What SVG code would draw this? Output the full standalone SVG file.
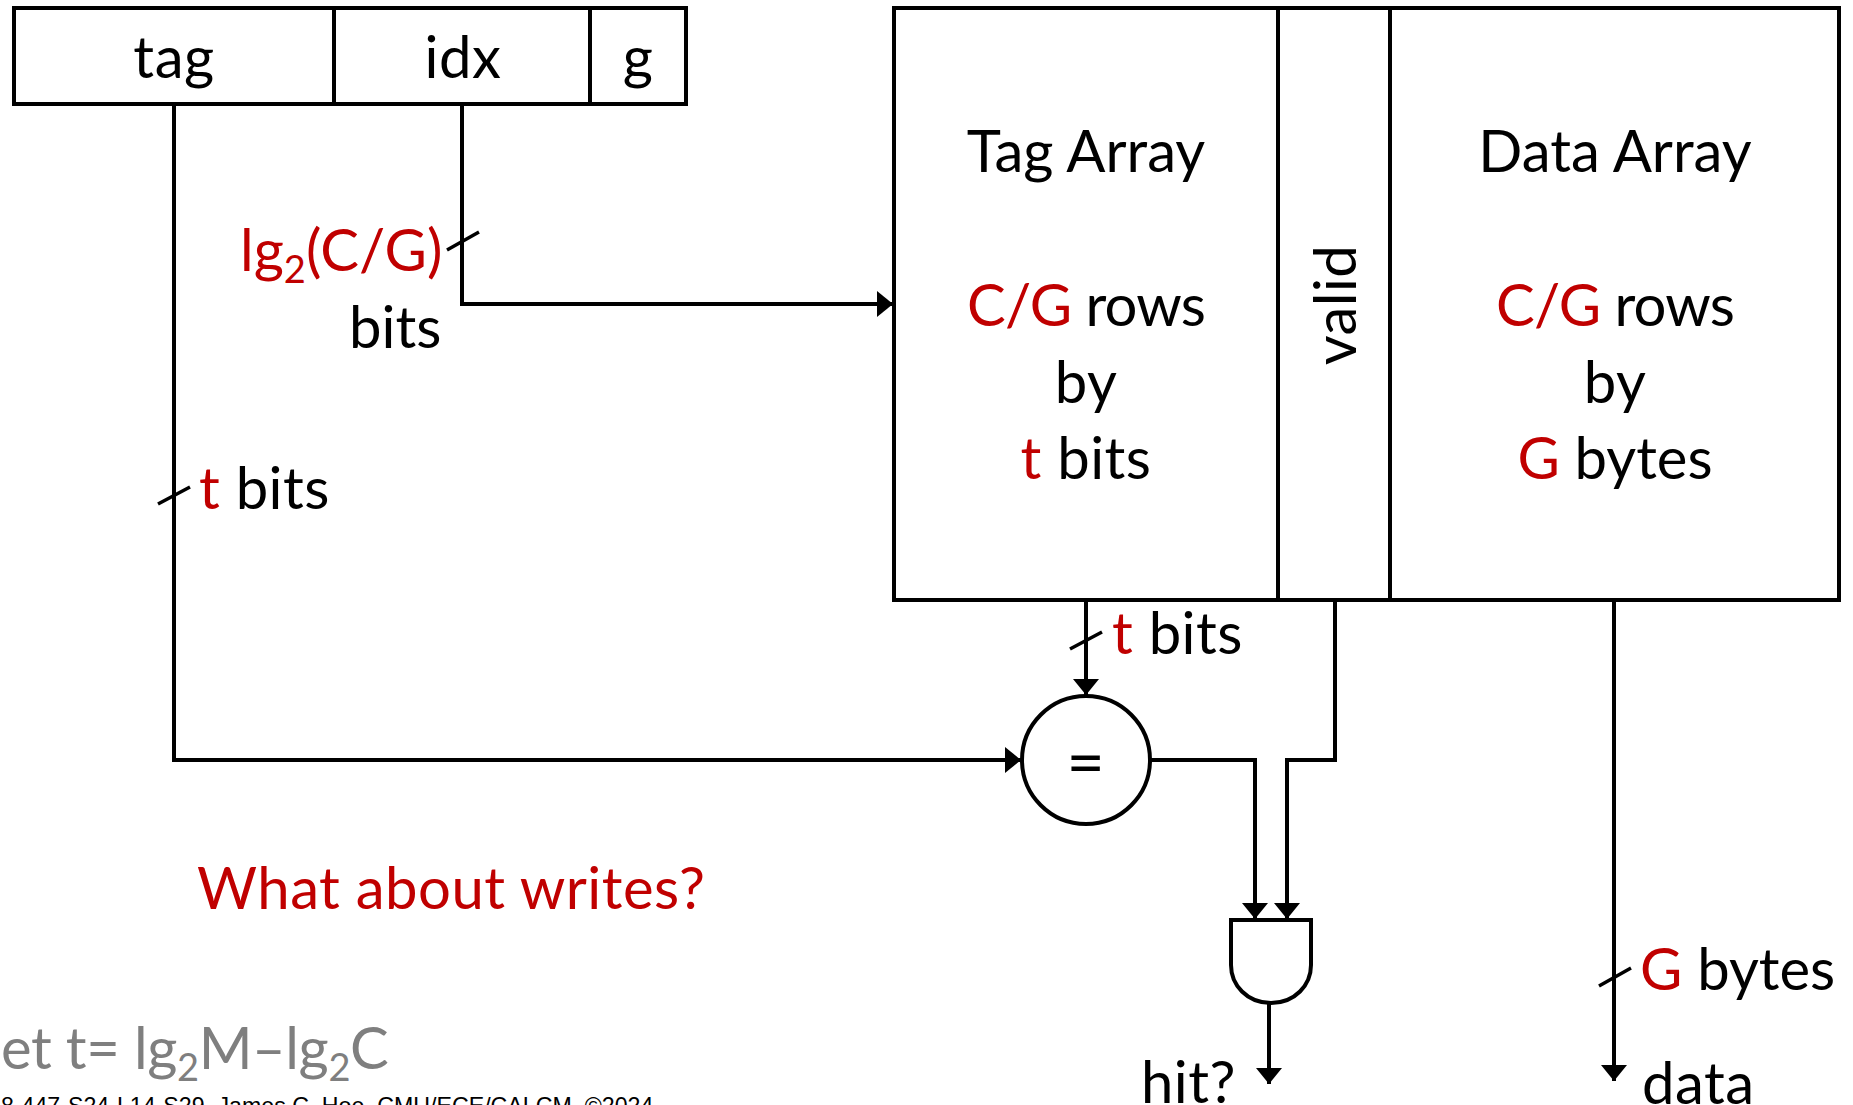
<svg xmlns="http://www.w3.org/2000/svg" width="1853" height="1105" viewBox="0 0 1853 1105">
<style>
text{font-family:"Lato","Open Sans","Liberation Sans",sans-serif;font-size:58px;letter-spacing:.5px;fill:#000}
.c{text-anchor:middle}
.r{fill:#c00000}
.box{fill:#fff;stroke:#000;stroke-width:4}
.w{fill:none;stroke:#000;stroke-width:4}
.t{fill:none;stroke:#000;stroke-width:3.5}
.s{font-size:38px}
.g,.g tspan{fill:#7f7f7f}
.n{letter-spacing:-.8px}
.z{letter-spacing:0}
</style>
<defs><marker id="a" markerUnits="userSpaceOnUse" markerWidth="18" markerHeight="26" refX="16" refY="13" orient="auto"><path d="M0 0L16 13L0 26z" fill="#000"/></marker></defs>
<rect width="1853" height="1105" fill="#fff"/>
<g id="address">
<rect class="box" x="14" y="8" width="672" height="96"/>
<path class="w" d="M334 8V104M590 8V104"/>
<text class="c" x="174" y="78">tag</text>
<text class="c" x="463" y="78">idx</text>
<text class="c" x="638" y="78">g</text>
</g>
<g id="arrays">
<rect class="box" x="894" y="8" width="945" height="592"/>
<path class="w" d="M1278 8V600M1390 8V600"/>
</g>
<g id="tag-array">
<text class="c z" x="1086" y="172">Tag Array</text>
<text class="c n" x="1086" y="326"><tspan class="r">C/G</tspan> rows</text>
<text class="c" x="1086" y="403">by</text>
<text class="c" x="1086" y="479"><tspan class="r">t</tspan> bits</text>
</g>
<g id="valid"><text class="c" transform="translate(1356 305) rotate(-90)" x="0" y="0">valid</text></g>
<g id="data-array">
<text class="c z" x="1615" y="172">Data Array</text>
<text class="c n" x="1615" y="326"><tspan class="r">C/G</tspan> rows</text>
<text class="c" x="1615" y="403">by</text>
<text class="c z" x="1615" y="479"><tspan class="r">G</tspan> bytes</text>
</g>
<g id="comparator">
<circle class="box" cx="1086" cy="760" r="64"/>
<text class="c" x="1086" y="786" style="font-size:66px">=</text>
</g>
<g id="and-gate"><path class="w" d="M1231 920H1311V965C1311 985 1295 1003 1271 1003C1247 1003 1231 985 1231 965Z"/></g>
<g id="connectors">
<path class="w" marker-end="url(#a)" d="M462 104V304H893"/>
<path class="w" marker-end="url(#a)" d="M174 104V760H1021"/>
<path class="w" marker-end="url(#a)" d="M1086 600V695"/>
<path class="w" marker-end="url(#a)" d="M1151 760H1255V919"/>
<path class="w" marker-end="url(#a)" d="M1335 600V760H1287V919"/>
<path class="w" marker-end="url(#a)" d="M1269 1003V1084"/>
<path class="w" marker-end="url(#a)" d="M1614 600V1081"/>
<path class="t" d="M447 250L479 232M158 504L190 487M1070 649L1102 632M1599 986L1631 968"/>
</g>
<g id="labels">
<text x="240" y="271" class="r z">lg<tspan dy="12" class="s">2</tspan><tspan dy="-12">(C/G)</tspan></text>
<text x="349" y="348" class="z">bits</text>
<text x="199" y="509"><tspan class="r">t</tspan> bits</text>
<text x="1112" y="654"><tspan class="r">t</tspan> bits</text>
<text x="1640" y="990" class="z"><tspan class="r">G</tspan> bytes</text>
<text x="1141" y="1103">hit?</text>
<text x="1642" y="1104">data</text>
<text x="197" y="909" class="r">What about writes?</text>
<text x="1" y="1069" class="g" style="letter-spacing:-.4px">et t= lg<tspan dy="12" class="s">2</tspan><tspan dy="-12">M–lg</tspan><tspan dy="12" class="s">2</tspan><tspan dy="-12">C</tspan></text>
<text x="-12" y="1114" style="font-family:'Liberation Sans',sans-serif;font-size:23.2px;letter-spacing:0">18-447-S24-L14-S29, James C. Hoe, CMU/ECE/CALCM, ©2024</text>
</g>
</svg>
